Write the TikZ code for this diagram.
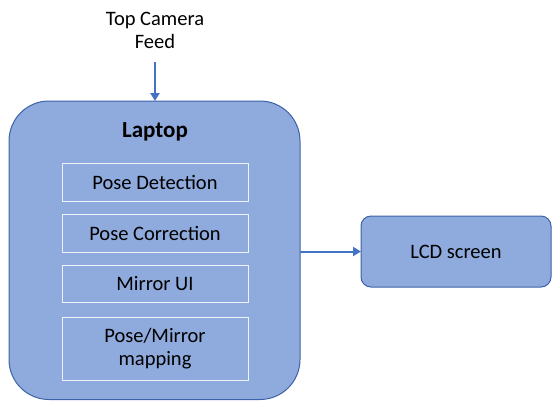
\documentclass[tikz,border=0pt]{standalone}
\usepackage{fontspec}
\setmainfont{Carlito}
\usetikzlibrary{arrows.meta}
\definecolor{boxfill}{HTML}{8FAADC}
\definecolor{boxline}{HTML}{3E62A8}
\definecolor{arrowc}{HTML}{4472C4}
\tikzset{
  x=1pt, y=-1pt,
  bigbox/.style={draw=boxline, fill=boxfill, line width=1pt, rounded corners=40pt, inner sep=0pt, outer sep=0pt},
  lcdbox/.style={draw=boxline, fill=boxfill, line width=1pt, rounded corners=10pt, inner sep=0pt, outer sep=0pt,
    minimum width=190pt, minimum height=71pt, font=\fontsize{20.5}{24}\selectfont},
  inner/.style={draw=white!85!boxfill, line width=0.8pt, minimum width=186pt, inner sep=0pt},
  lbl/.style={font=\fontsize{20.5}{24}\selectfont, align=center, text=black},
  conn/.style={draw=arrowc, line width=2pt, -{Triangle[length=8pt,width=9pt]}}
}
\begin{document}
\begin{tikzpicture}
\useasboundingbox (0,0) rectangle (552,400);
\node[bigbox, minimum width=291pt, minimum height=298.5pt] (laptop) at (154.5,250.25) {};
\node[lbl, font=\fontsize{23}{27}\selectfont\bfseries] (laptoplbl) at (155,132) {Laptop};
\node[lcdbox] (lcd) at (456,251.5) {LCD screen};
\node[inner, minimum height=38pt, lbl] (pd) at (155,182) {Pose Detection};
\node[inner, minimum height=38pt, lbl] (pc) at (155,233) {Pose Correction};
\node[inner, minimum height=37pt, lbl] (mu) at (155,283.5) {Mirror UI};
\node[inner, minimum height=63pt, lbl] (pm) at (155,348.5) {Pose/Mirror\\[-1pt]mapping};
\node[lbl] (feed) at (155,30.5) {Top Camera\\[-1pt]Feed};
\coordinate (feedEnd) at (155,62);
\draw[conn] (feedEnd) -- (feedEnd |- laptop.north);
\draw[conn] (laptop.east |- lcd.west) -- (lcd.west);
\end{tikzpicture}
\end{document}
